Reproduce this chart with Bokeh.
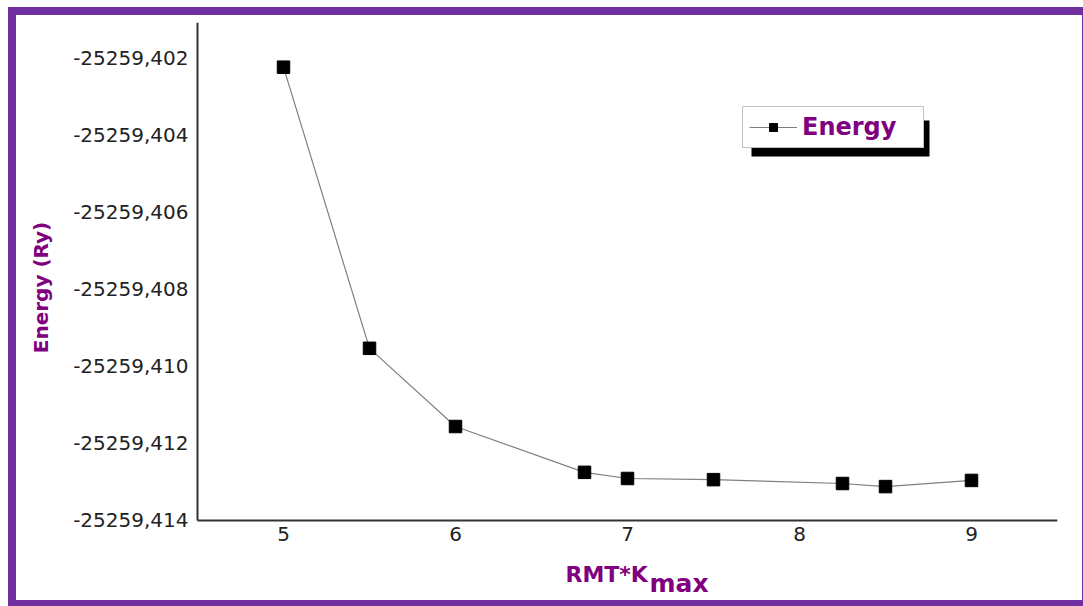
from bokeh.plotting import figure
from bokeh.models import (Range1d, FixedTicker, CustomJSTickFormatter, Legend,
                          LegendItem, Label, BoxAnnotation)
from bokeh.embed import file_html
from bokeh.resources import INLINE

# Total energy convergence versus RMT*Kmax
rmt_kmax = [5.0, 5.5, 6.0, 6.75, 7.0, 7.5, 8.25, 8.5, 9.0]
energy_ry = [-25259.40223, -25259.40953, -25259.41156, -25259.41275,
             -25259.41291, -25259.41294, -25259.41304, -25259.41312,
             -25259.41296]

x_ticks = [5, 6, 7, 8, 9]
y_ticks = [-25259.402, -25259.404, -25259.406, -25259.408,
           -25259.410, -25259.412, -25259.414]
y_tick_labels = ["-25259,402", "-25259,404", "-25259,406", "-25259,408",
                 "-25259,410", "-25259,412", "-25259,414"]

x_axis_min, x_axis_max = 4.5, 9.5
y_axis_min, y_axis_max = -25259.414, -25259.40107

PURPLE_TEXT = "#800080"
PURPLE_FRAME = "#7030A0"
FONT = "DejaVu Sans"

# The data frame fills the canvas so that tick labels and titles sit inside it;
# both axes are pinned at the lower-left corner of the drawn area and bounded.
p = figure(width=1066, height=585, output_backend="svg", toolbar_location=None,
           x_range=Range1d(3.44767, x_axis_max),
           y_range=Range1d(-25259.415922, y_axis_max),
           min_border_left=0, min_border_right=25, min_border_top=7,
           min_border_bottom=6,
           background_fill_color="white", border_fill_color="white",
           styles={"margin": "15px 0 0 16px",
                   "box-shadow": f"0 0 0 8px {PURPLE_FRAME}"})
p.outline_line_color = None
p.grid.visible = False

line_r = p.line(rmt_kmax, energy_ry, line_color="#7f7f7f", line_width=1.2)
pts_r = p.scatter(rmt_kmax, energy_ry, marker="square", size=12.5,
                  fill_color="black", line_color="black")

for ax in (p.xaxis[0], p.yaxis[0]):
    ax.axis_line_color = "#333333"
    ax.axis_line_width = 2
    ax.major_tick_in = 0
    ax.major_tick_out = 0
    ax.minor_tick_in = 0
    ax.minor_tick_out = 0
    ax.major_label_text_font = FONT
    ax.major_label_text_font_size = "20px"
    ax.major_label_text_color = "#222222"

p.xaxis.ticker = FixedTicker(ticks=x_ticks)
p.xaxis.major_label_standoff = 7
p.xaxis.fixed_location = y_axis_min
p.xaxis.bounds = (x_axis_min, x_axis_max)

p.yaxis.ticker = FixedTicker(ticks=y_ticks)
p.yaxis.fixed_location = x_axis_min
p.yaxis.bounds = (y_axis_min, y_axis_max)
p.yaxis.formatter = CustomJSTickFormatter(
    args=dict(tick_vals=y_ticks, tick_text=y_tick_labels),
    code="const i = tick_vals.findIndex(t => Math.abs(t - tick) < 1e-7);"
         "return i >= 0 ? tick_text[i] : '';")
p.yaxis.major_label_standoff = 9

# axis titles (x title carries a subscript)
y_title = Label(x=24, y=307, x_units="screen", y_units="screen",
                text="Energy (Ry)", angle=90, angle_units="deg",
                text_font=FONT, text_font_style="bold", text_font_size="20px",
                text_color=PURPLE_TEXT, text_align="center",
                text_baseline="middle")
x_title_main = Label(x=181 + 368, y=20, x_units="screen", y_units="screen",
                     text="RMT*K", text_font=FONT, text_font_style="bold",
                     text_font_size="22px", text_color=PURPLE_TEXT,
                     text_baseline="alphabetic")
x_title_sub = Label(x=181 + 452, y=11, x_units="screen", y_units="screen",
                    text="max", text_font=FONT, text_font_style="bold",
                    text_font_size="25px", text_color=PURPLE_TEXT,
                    text_baseline="alphabetic")
for lbl in (y_title, x_title_main, x_title_sub):
    p.add_layout(lbl)

# legend drop shadow
shadow = BoxAnnotation(left=181 + 554, right=181 + 732, bottom=438, top=474,
                       left_units="screen", right_units="screen",
                       bottom_units="screen", top_units="screen",
                       fill_color="black", fill_alpha=1, line_color=None)
p.add_layout(shadow)

legend = Legend(items=[LegendItem(label="Energy", renderers=[line_r, pts_r])],
                location=(181 + 545, 446), border_line_color="#888888",
                border_line_width=1, background_fill_color="white",
                background_fill_alpha=1, label_text_font=FONT,
                label_text_font_style="bold", label_text_font_size="24px",
                label_text_color=PURPLE_TEXT, glyph_width=48, glyph_height=20,
                label_standoff=5, label_width=115, padding=6, margin=0,
                spacing=0)
p.add_layout(legend)

open("out.html", "w").write(file_html(p, INLINE))
